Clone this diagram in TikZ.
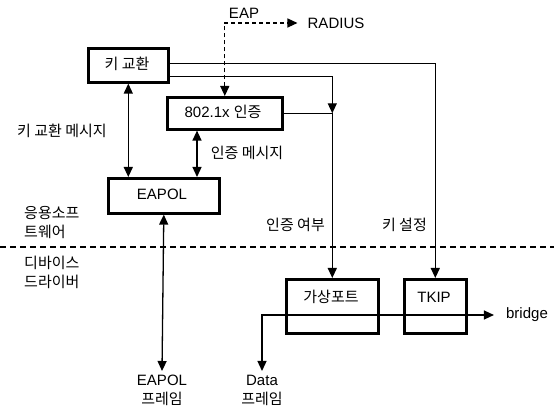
\documentclass[tikz,border=0pt]{standalone}
\usepackage{fontspec}
\setmainfont{Liberation Sans}
\newfontfamily\kr{Noto Sans CJK KR}
\usetikzlibrary{arrows.meta}
\begin{document}
\begin{tikzpicture}[x=1pt,y=-1pt,
  font=\fontsize{15}{19}\selectfont,
  box/.style={draw,line width=2.6pt,inner sep=0pt,anchor=north west},
  lbl/.style={inner sep=0pt},
  ln/.style={line width=1.3pt},
  tip/.style={-{Triangle[length=10pt,width=9pt]}},
  tips/.style={{Triangle[length=10pt,width=9pt]}-{Triangle[length=10pt,width=9pt]}},
]
\useasboundingbox (0,0) rectangle (554,419);
% boxes
\node[box,minimum width=80pt,minimum height=34pt] (kx) at (87,47) {};
\node[lbl] (kxt) at (127,64) {\kr 키 교환};
\node[box,minimum width=115pt,minimum height=32pt] (auth) at (166,96) {};
\node[lbl] (autht) at (223,112) {802.1x {\kr 인증}};
\node[box,minimum width=111pt,minimum height=35pt] (eapol) at (107,177) {};
\node[lbl] (eapolt) at (162,194) {EAPOL};
\node[box,minimum width=92pt,minimum height=54pt] (vp) at (285,278) {};
\node[lbl] (vpt) at (331,297) {\kr 가상포트};
\node[box,minimum width=62pt,minimum height=54pt] (tkip) at (403,278) {};
\node[lbl] (tkipt) at (434,297) {TKIP};
% labels
\node[lbl] (rad) at (336,23) {RADIUS};
\node[lbl] (eap) at (244,13) {EAP};
\node[lbl] (kxm) at (62,131) {\kr 키 교환 메시지};
\node[lbl] (authm) at (247,153) {\kr 인증 메시지};
\node[lbl,align=left,anchor=west] (app) at (24,223) {\kr 응용소프\\\kr 트웨어};
\node[lbl,align=left,anchor=west] (dev) at (24,272) {\kr 디바이스\\\kr 드라이버};
\node[lbl,anchor=east] (authq) at (325,225) {\kr 인증 여부};
\node[lbl,anchor=east] (keyset) at (427,225) {\kr 키 설정};
\node[lbl] (br) at (527,315) {bridge};
\node[lbl,align=center,anchor=north] (ef) at (162,375) {EAPOL\\\kr 프레임};
\node[lbl,align=center,anchor=north] (df) at (262,375) {Data\\\kr 프레임};
% separator
\coordinate (sepL) at (0,247);
\coordinate (sepR) at (554,247);
\draw[line width=1.5pt,dash pattern=on 6pt off 4pt] (sepL) -- (sepR);
% connectors
\coordinate (j) at (vp.north |- auth.east);
\coordinate (c2) at (197,0);
\coordinate (c3) at (262,0);
\draw[ln,tip] ([yshift=2pt]kx.east) -| (tkip.north);
\draw[ln,tip] ([yshift=-11pt]kx.east) -| (j);
\draw[ln] (auth.east) -- (j);
\draw[ln,tip] (j) -- (vp.north);
\draw[ln,tips] (kx.south) -- (kx.south |- eapol.north);
\draw[ln,tips] (auth.south -| c2) -- (eapol.north -| c2);
\draw[ln,tips] (eapol.south) -- ([yshift=4pt]ef.north);
\draw[ln,dash pattern=on 4pt off 3pt,tips] (auth.north) |- ([xshift=-10pt]rad.west |- 0,23);
\draw[ln,tips] ([yshift=4pt]df.north -| c3) |- ([xshift=-12pt]br.west);
\end{tikzpicture}
\end{document}
